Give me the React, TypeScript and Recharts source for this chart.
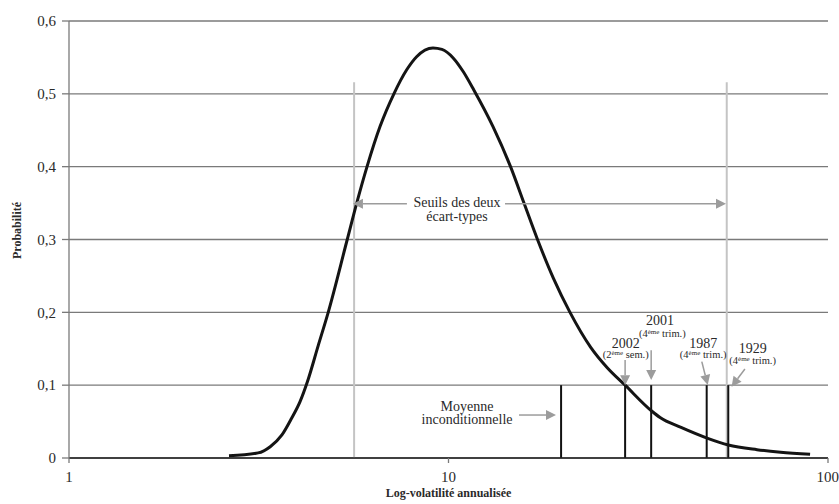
import React from 'react';
import {
  LineChart,
  Line,
  XAxis,
  YAxis,
  CartesianGrid,
  ReferenceLine,
  ReferenceDot,
} from 'recharts';

// Density of annualised log-volatility
const volatility = [
  2.64, 3.15, 3.39, 3.64, 3.86, 4.06, 4.25, 4.54, 4.82, 5.41, 5.73, 6.1, 6.6, 7.18,
  7.76, 8.24, 9.1, 9.61, 10.3, 10.92, 11.67, 13.1, 14.57, 15.81, 17.16, 18.89, 20.9,
  23.7, 26.2, 29.2, 34.3, 36.1, 41, 48.2, 54.6, 65, 75, 89.7,
];
const probability = [
  0.003, 0.007, 0.0155, 0.0316, 0.0545, 0.077, 0.105, 0.155, 0.2, 0.3, 0.35, 0.4,
  0.455, 0.5, 0.533, 0.551, 0.563, 0.561, 0.549, 0.531, 0.505, 0.455, 0.4, 0.35, 0.3,
  0.247, 0.2, 0.152, 0.124, 0.1, 0.0645, 0.0555, 0.042, 0.027, 0.0179, 0.0114, 0.0079,
  0.005,
];

const xTicks = [1, 10, 100];
const yTicks = [0, 0.1, 0.2, 0.3, 0.4, 0.5, 0.6];

// Unconditional mean and crisis episodes (bars up to 0.1)
const eventVolatility = [19.8, 29.2, 34.2, 47.9, 54.6];
const eventHeight = 0.1;

// Two standard-deviation thresholds
const thresholdVolatility = [5.64, 54.1];
const thresholdTop = 0.516;

// Text notes: [text, volatility, probability]
const notes: [string, number, number][] = [
  ['Seuils des deux', 10.53, 0.3445],
  ['écart-types', 10.53, 0.3253],
  ['Moyenne', 11.19, 0.0652],
  ['inconditionnelle', 11.19, 0.046],
  ['2002', 29.3, 0.1511],
  ['2001', 36.07, 0.1832],
  ['1987', 46.9, 0.1511],
  ['1929', 63.3, 0.1442],
];

// Period notes under each year: [number, unit, volatility, probability]
const periods: [string, string, number, number][] = [
  ['2', 'sem.', 29.3, 0.1374],
  ['4', 'trim.', 36.6, 0.1662],
  ['4', 'trim.', 46.9, 0.1378],
  ['4', 'trim.', 63.3, 0.1287],
];

// Pointer arrows: [fromVol, fromProb, toVol, toProb]
const arrows: [number, number, number, number][] = [
  [7.77, 0.349, 5.6, 0.349],
  [14.09, 0.349, 53.85, 0.349],
  [15.34, 0.059, 19.2, 0.059],
  [29.2, 0.1346, 29.2, 0.1],
  [34.2, 0.148, 34.2, 0.107],
  [46.5, 0.1323, 48.2, 0.1003],
  [60.4, 0.1223, 55.7, 0.0979],
];

const chartData = volatility.map((v, i) => ({ vol: v, p: probability[i] }));

const FONT = "'Liberation Serif', 'DejaVu Serif', serif";
const TEXT = '#2a2a2a';
const GRID = '#7a7a7a';
const ARROW = '#9c9c9c';

const ArrowShape = (props: any) => {
  const { x1, y1, x2, y2 } = props;
  const dx = x2 - x1;
  const dy = y2 - y1;
  const len = Math.sqrt(dx * dx + dy * dy) || 1;
  const ux = dx / len;
  const uy = dy / len;
  const head = 10;
  const half = 5;
  const bx = x2 - ux * head;
  const by = y2 - uy * head;
  const pts = `${x2},${y2} ${bx - uy * half},${by + ux * half} ${bx + uy * half},${by - ux * half}`;
  return (
    <g>
      <line x1={x1} y1={y1} x2={bx} y2={by} stroke={ARROW} strokeWidth={1.5} />
      <polygon points={pts} fill={ARROW} />
    </g>
  );
};

const BarShape = (color: string, width: number) => (props: any) => {
  const { x1, y1, x2, y2 } = props;
  return <line x1={x1} y1={y1} x2={x2} y2={y2} stroke={color} strokeWidth={width} />;
};

const makeNote = (text: string) => (props: any) => (
  <text
    x={props.cx}
    y={props.cy}
    textAnchor="middle"
    fontFamily={FONT}
    fontSize={14}
    fill={TEXT}
  >
    {text}
  </text>
);

const makePeriod = (num: string, unit: string) => (props: any) => (
  <text
    x={props.cx}
    y={props.cy}
    textAnchor="middle"
    fontFamily={FONT}
    fontSize={10.5}
    fill={TEXT}
  >
    <tspan>({num}</tspan>
    <tspan fontSize={7} dy={-3}>ème</tspan>
    <tspan dy={3}> {unit})</tspan>
  </text>
);

const YTitle = (props: any) => {
  const vb = props.viewBox || { x: 0, y: 21, width: 69, height: 437 };
  const cx = vb.x + 17;
  const cy = vb.y + vb.height / 2 - 9;
  return (
    <text
      x={cx}
      y={cy}
      transform={`rotate(-90, ${cx}, ${cy})`}
      textAnchor="middle"
      dominantBaseline="central"
      fontFamily={FONT}
      fontWeight="bold"
      fontSize={12}
      fill={TEXT}
    >
      Probabilité
    </text>
  );
};

const XTitle = (props: any) => {
  const vb = props.viewBox || { x: 69, y: 458, width: 759, height: 46 };
  return (
    <text
      x={vb.x + vb.width / 2}
      y={vb.y + 39}
      textAnchor="middle"
      fontFamily={FONT}
      fontWeight="bold"
      fontSize={12}
      fill={TEXT}
    >
      Log-volatilité annualisée
    </text>
  );
};

export default function App() {
  return (
    <div style={{ position: 'absolute', left: 0, top: 0, width: 839, height: 504, background: '#fff' }}>
      <LineChart
        width={839}
        height={504}
        data={chartData}
        margin={{ top: 21, right: 11, left: 0, bottom: 0 }}
      >
        <CartesianGrid horizontal vertical={false} stroke={GRID} strokeWidth={1.3} />
        <XAxis
          dataKey="vol"
          type="number"
          scale="log"
          domain={[1, 100]}
          ticks={xTicks}
          allowDataOverflow
          height={46}
          tickSize={5}
          tickMargin={8}
          axisLine={{ stroke: '#222', strokeWidth: 1.5 }}
          tickLine={{ stroke: GRID, strokeWidth: 1.3 }}
          tick={{ fontFamily: FONT, fontSize: 15, fill: TEXT }}
          label={<XTitle />}
        />
        <YAxis
          type="number"
          domain={[0, 0.6]}
          ticks={yTicks}
          width={69}
          tickSize={7}
          tickMargin={6}
          axisLine={{ stroke: GRID, strokeWidth: 1.3 }}
          tickLine={{ stroke: GRID, strokeWidth: 1.3 }}
          tick={{ fontFamily: FONT, fontSize: 15, fill: TEXT }}
          tickFormatter={(v: number) => (v === 0 ? '0' : v.toFixed(1).replace('.', ','))}
          label={<YTitle />}
        />
        {thresholdVolatility.map((v, i) => (
          <ReferenceLine
            key={`t${i}`}
            segment={[{ x: v, y: 0 }, { x: v, y: thresholdTop }]}
            shape={BarShape('#c4c4c4', 2)}
          />
        ))}
        {eventVolatility.map((v, i) => (
          <ReferenceLine
            key={`e${i}`}
            segment={[{ x: v, y: 0 }, { x: v, y: eventHeight }]}
            shape={BarShape('#111', 2)}
          />
        ))}
        <Line
          type="monotone"
          dataKey="p"
          stroke="#141414"
          strokeWidth={3}
          dot={false}
          isAnimationActive={false}
        />
        {arrows.map((a, i) => (
          <ReferenceLine
            key={`a${i}`}
            segment={[{ x: a[0], y: a[1] }, { x: a[2], y: a[3] }]}
            shape={ArrowShape}
          />
        ))}
        {notes.map((n, i) => (
          <ReferenceDot key={`n${i}`} x={n[1]} y={n[2]} shape={makeNote(n[0])} />
        ))}
        {periods.map((p, i) => (
          <ReferenceDot key={`p${i}`} x={p[2]} y={p[3]} shape={makePeriod(p[0], p[1])} />
        ))}
      </LineChart>
    </div>
  );
}
